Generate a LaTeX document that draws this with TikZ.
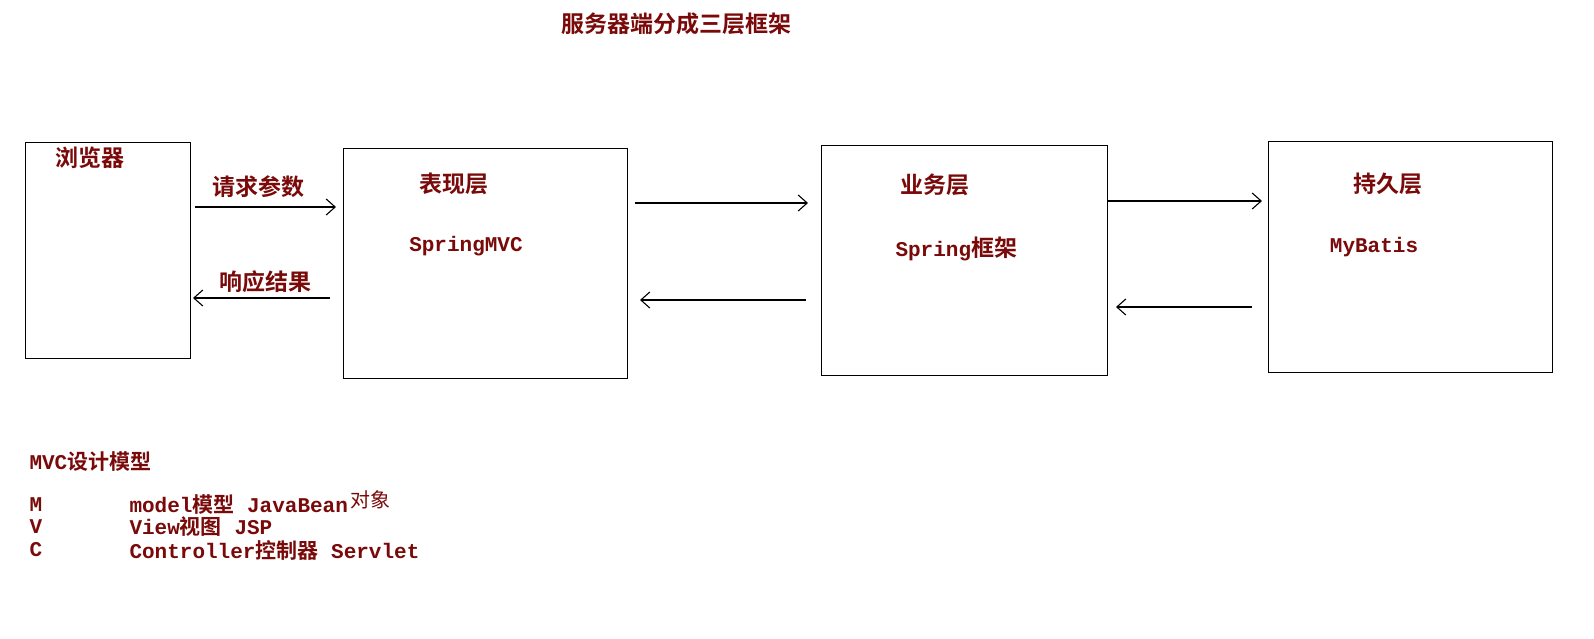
\documentclass[tikz,border=0pt]{standalone}
\usepackage{fontspec}
\usetikzlibrary{arrows.meta}
\newfontfamily\cjk{Noto Sans CJK SC}[BoldFont={Noto Sans CJK SC Bold}]
\newfontfamily\monob{Liberation Mono}
\definecolor{dred}{HTML}{7A0A0A}
\begin{document}
\begin{tikzpicture}[x=1pt,y=-1pt,
  box/.style={draw,line width=1.4pt},
  lab/.style={text=dred,font=\cjk\bfseries\fontsize{23}{23}\selectfont},
  mono/.style={text=dred,font=\monob\bfseries\fontsize{21}{22}\selectfont},
  arr/.style={-{Straight Barb[length=9pt,width=16pt]},line width=1.1pt}]
\useasboundingbox (0,0) rectangle (1594,638);
\fill[white] (0,0) rectangle (1594,638);
\node[lab] (title) at (676,24) {服务器端分成三层框架};
\node[box,minimum width=165,minimum height=216,anchor=north west] (b) at (25,142) {};
\node[box,minimum width=284,minimum height=230,anchor=north west] (p) at (343,148) {};
\node[box,minimum width=286,minimum height=230,anchor=north west] (s) at (821,145) {};
\node[box,minimum width=284,minimum height=231,anchor=north west] (d) at (1268,141) {};
\node[lab] (bl) at (90,158) {浏览器};
\node[lab] (pl) at (454,184) {表现层};
\node[mono] (pm) at (466,246) {SpringMVC};
\node[lab] (sl) at (935,185) {业务层};
\node[mono,anchor=west] (sm) at (892,249) {Spring\cjk\fontsize{23}{23}\selectfont 框架};
\node[lab] (dl) at (1388,184) {持久层};
\node[mono] (dm) at (1374,247) {MyBatis};
\coordinate (a1s) at (195,207); \coordinate (a1e) at (336,207);
\coordinate (a2s) at (330,298); \coordinate (a2e) at (193,298);
\coordinate (a3s) at (635,203); \coordinate (a3e) at (808,203);
\coordinate (a4s) at (806,300); \coordinate (a4e) at (640,300);
\coordinate (a5s) at (1108,201); \coordinate (a5e) at (1262,201);
\coordinate (a6s) at (1252,307); \coordinate (a6e) at (1116,307);
\draw[arr] (a1s) -- (a1e);
\draw[arr] (a2s) -- (a2e);
\draw[arr] (a3s) -- (a3e);
\draw[arr] (a4s) -- (a4e);
\draw[arr] (a5s) -- (a5e);
\draw[arr] (a6s) -- (a6e);
\node[lab] (req) at (258,187) {请求参数};
\node[lab] (res) at (265,282) {响应结果};
\node[mono,anchor=west] (mvc) at (26,462) {MVC\cjk\bfseries\fontsize{21}{21}\selectfont 设计模型};
\node[mono,anchor=west] (m1) at (26,505) {M};
\node[mono,anchor=west] (m2) at (126,505) {model\cjk\bfseries 模型\monob\bfseries{} JavaBean};
\node[text=dred,font=\cjk\fontsize{20}{20}\selectfont,anchor=west] (m3) at (347,500) {对象};
\node[mono,anchor=west] (v1) at (26,527) {V};
\node[mono,anchor=west] (v2) at (126,527) {View\cjk\bfseries 视图\monob\bfseries{} JSP};
\node[mono,anchor=west] (c1) at (26,550) {C};
\node[mono,anchor=west] (c2) at (126,550) {Controller\cjk\bfseries 控制器\monob\bfseries{} Servlet};
\end{tikzpicture}
\end{document}
